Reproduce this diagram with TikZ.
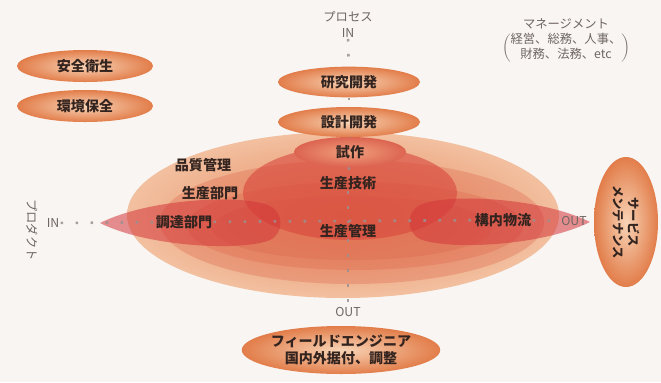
\documentclass[tikz,border=0pt]{standalone}
\usepackage{fontspec}
\newfontfamily\jp{Noto Sans CJK JP}
\usetikzlibrary{shapes.geometric}

\definecolor{paper}{HTML}{F8F5F3}
\definecolor{peachin}{HTML}{F8D4B6}
\definecolor{peachout}{HTML}{E27D4A}
\definecolor{redin}{HTML}{F0A07E}
\definecolor{redout}{HTML}{DC6450}
\definecolor{ringin}{HTML}{E8895E}
\definecolor{ringout}{HTML}{F2C0A0}
\definecolor{layer}{HTML}{DE6A4E}
\definecolor{core}{HTML}{D8463C}
\definecolor{lens}{HTML}{D4363A}
\definecolor{ink}{HTML}{33241F}
\definecolor{dotgray}{HTML}{9A9090}

\tikzset{
  bubble/.style={ellipse, shading=radial, inner color=peachin, outer color=peachout,
    font=\jp\bfseries\fontsize{12}{14}\selectfont, text=ink, inner sep=0pt, align=center},
  redbubble/.style={bubble, inner color=redin, outer color=redout},
  label/.style={font=\jp\bfseries\fontsize{12}{14}\selectfont, text=ink, inner sep=1pt},
  small/.style={font=\jp\fontsize{10.5}{13}\selectfont, text=ink!70, inner sep=1pt},
  dotline/.style={dotgray, opacity=0.85, line width=2.2pt, dash pattern=on 2.2pt off 10.6pt},
}

\begin{document}
\begin{tikzpicture}[x=0.03cm, y=-0.03cm]
  \fill[paper] (0,0) rectangle (661,382);
  \useasboundingbox (0,0) rectangle (661,382);

  % layered field of production
  \shade[inner color=ringin, outer color=ringout] (343,215) ellipse [x radius=216, y radius=83];
  \fill[layer, opacity=0.35] (352,222) ellipse [x radius=192, y radius=62];
  \fill[layer, opacity=0.35] (355,226) ellipse [x radius=168, y radius=44];
  \fill[layer, opacity=0.35] (352,228) ellipse [x radius=140, y radius=32];
  \fill[core, opacity=0.6] (350,193) ellipse [x radius=107, y radius=47];
  % in / out lenses
  \fill[lens, opacity=0.55] (100,223) .. controls (150,198) and (245,194) .. (270,206)
    .. controls (284,213) and (284,233) .. (270,240) .. controls (245,251) and (150,248) .. (100,223);
  \fill[lens, opacity=0.55] (590,222) .. controls (540,197) and (445,193) .. (420,205)
    .. controls (406,212) and (406,232) .. (420,239) .. controls (445,250) and (540,247) .. (590,222);

  % side bubbles
  \node[bubble, minimum width=4.08cm, minimum height=0.96cm] (anzen) at (85,66) {安全衛生};
  \node[bubble, minimum width=4.08cm, minimum height=0.96cm] (kankyo) at (85,106) {環境保全};

  % process column
  \node[small] (process) at (348,17) {プロセス};
  \node[small] (procin) at (348,33) {IN};
  \node[bubble, minimum width=4.26cm, minimum height=0.92cm] (kenkyu) at (349,82) {研究開発};
  \node[bubble, minimum width=4.26cm, minimum height=0.9cm] (sekkei) at (349,122) {設計開発};
  \node[redbubble, minimum width=3.36cm, minimum height=0.9cm] (shisaku) at (350,152) {試作};
  \node[label] (seigi) at (348,183) {生産技術};
  \node[label] (seikan) at (348,231) {生産管理};
  \node[small] (outB) at (348,312) {OUT};
  \node[bubble, minimum width=4.98cm, minimum height=1.44cm] (field) at (341,350)
    {フィールドエンジニア\\国内外据付、調整};

  % product row
  \node[small, rotate=-90] (product) at (32,230) {プロダクト};
  \node[small] (prodin) at (53,223) {IN};
  \node[label] (hinkan) at (203,165) {品質管理};
  \node[label] (seibu) at (210,193) {生産部門};
  \node[label] (chotatsu) at (184,222) {調達部門};
  \node[label] (konai) at (503,220) {構内物流};
  \node[small] (outR) at (574,221) {OUT};
  \node[bubble, rotate=-90, minimum width=3.9cm, minimum height=1.92cm,
    font=\jp\bfseries\fontsize{10.5}{13}\selectfont] (service) at (626,222) {サービス\\メンテナンス};

  % management
  \node[small] (manage) at (566,24) {マネージメント};
  \node[small, anchor=north] (manlist) at (566,31)
    {$\left(\vcenter{\hbox{\begin{tabular}{@{}c@{}}経営、総務、人事、\\財務、法務、etc\end{tabular}}}\right)$};

  % flows
  \draw[dotline] (procin) -- (kenkyu);
  \draw[dotline] (kenkyu) -- (sekkei);
  \draw[dotline] (sekkei) -- (shisaku);
  \draw[dotline] (shisaku) -- (seigi);
  \draw[dotline] (seigi) -- (seikan);
  \draw[dotline] (seikan) -- (outB);
  \draw[dotline] (prodin) -- (chotatsu);
  \draw[dotline] (chotatsu) -- (konai);
  \draw[dotline] (konai) -- (outR);
\end{tikzpicture}
\end{document}
